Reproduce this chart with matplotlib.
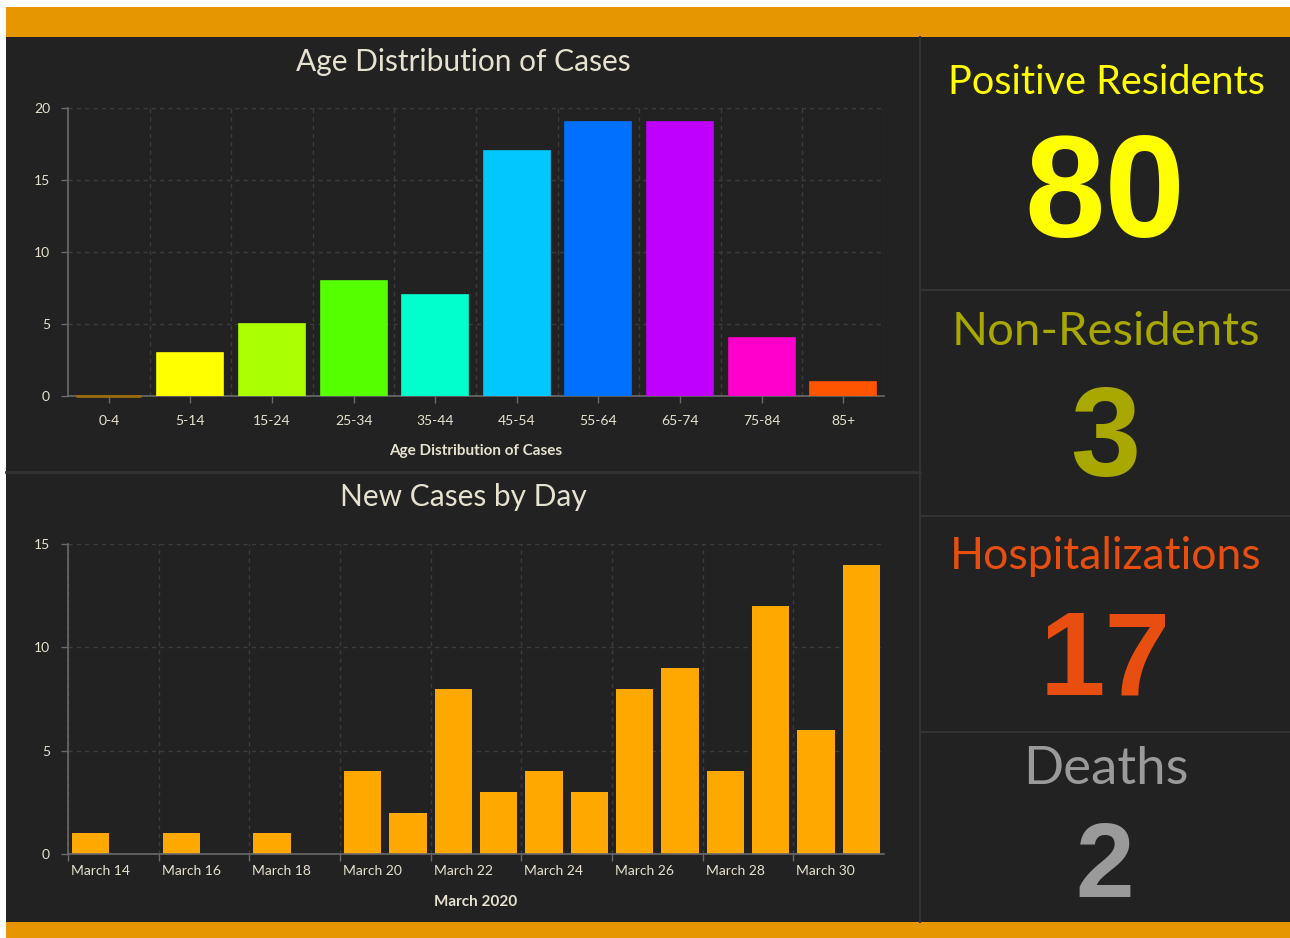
import matplotlib.pyplot as plt
import matplotlib.transforms as mtransforms
from matplotlib.patches import Rectangle

plt.rcParams['font.family'] = ['Lato', 'DejaVu Sans']

W, H = 1290, 938

age_groups = ["0-4", "5-14", "15-24", "25-34", "35-44", "45-54", "55-64", "65-74", "75-84", "85+"]
age_cases = [0, 3, 5, 8, 7, 17, 19, 19, 4, 1]
age_colors = ["#9a6a10", "#ffff00", "#aaff00", "#55ff00", "#00ffcc",
              "#00c8ff", "#0070ff", "#c000ff", "#ff00cc", "#ff5500"]

days = ["March 14", "March 15", "March 16", "March 17", "March 18", "March 19",
        "March 20", "March 21", "March 22", "March 23", "March 24", "March 25",
        "March 26", "March 27", "March 28", "March 29", "March 30", "March 31"]
new_cases = [1, 0, 1, 0, 1, 0, 4, 2, 8, 3, 4, 3, 8, 9, 4, 12, 6, 14]

stat_labels = ["Positive Residents", "Non-Residents", "Hospitalizations", "Deaths"]
stat_values = [80, 3, 17, 2]
stat_colors = ["#ffff00", "#a8a800", "#e84e0f", "#9a9a9a"]

bg = "#222222"
line = "#333333"
orange = "#e59600"
txt = "#e6e2cf"


def fx(x):
    return x / W


def fy(y):
    return 1 - y / H


fig = plt.figure(figsize=(W / 100, H / 100), dpi=100, facecolor="white")

# frame: orange bars and dark panel
fig.patches.append(Rectangle((fx(6), fy(922)), fx(1284), 885 / H, transform=fig.transFigure,
                             facecolor=bg, edgecolor="none", zorder=-5))
fig.patches.append(Rectangle((fx(6), fy(37)), fx(1284), 30 / H, transform=fig.transFigure,
                             facecolor=orange, edgecolor="none", zorder=-4))
fig.patches.append(Rectangle((fx(6), 0), fx(1284), 16 / H, transform=fig.transFigure,
                             facecolor=orange, edgecolor="none", zorder=-4))
# dividers
fig.add_artist(plt.Line2D([fx(920), fx(920)], [fy(37), fy(922)], color=line, lw=1.5, zorder=-3))
fig.add_artist(plt.Line2D([fx(6), fx(920)], [fy(472), fy(472)], color=line, lw=2, zorder=-3))
for yy in [290, 516, 732]:
    fig.add_artist(plt.Line2D([fx(920), fx(1290)], [fy(yy), fy(yy)], color=line, lw=1.5, zorder=-3))


def style_axes(ax):
    ax.set_facecolor("none")
    for s in ["top", "right"]:
        ax.spines[s].set_visible(False)
    for s in ["left", "bottom"]:
        ax.spines[s].set_color("#6a6a6a")
        ax.spines[s].set_linewidth(1.2)
    ax.tick_params(colors="#6a6a6a", labelcolor=txt, labelsize=10, length=5, width=1)
    ax.set_axisbelow(True)


# top chart
ax1 = fig.add_axes([fx(68), fy(396), fx(884 - 68), (396 - 108) / H])
style_axes(ax1)
ax1.bar(range(len(age_groups)), age_cases, width=0.81, color=age_colors,
        edgecolor=age_colors, linewidth=1.2, zorder=3)
# zero-valued groups still show a thin line on the axis
for i, v in enumerate(age_cases):
    if v == 0:
        ax1.plot([i - 0.4, i + 0.4], [0, 0], color=age_colors[i], lw=2, zorder=4,
                 solid_capstyle="butt", clip_on=False)
ax1.set_xlim(-0.5, len(age_groups) - 0.5)
ax1.set_ylim(0, 20)
ax1.set_yticks([0, 5, 10, 15, 20])
ax1.set_xticks(range(len(age_groups)))
ax1.set_xticklabels(age_groups)
ax1.set_xticks([i + 0.5 for i in range(len(age_groups))], minor=True)
ax1.tick_params(axis="x", which="minor", length=0)
ax1.tick_params(axis="x", pad=9)
ax1.tick_params(axis="y", pad=8)
ax1.grid(axis="y", color="#3c3c3c", linestyle=(0, (3, 3)), linewidth=1)
ax1.grid(axis="x", which="minor", color="#3c3c3c", linestyle=(0, (3, 3)), linewidth=1)
ax1.set_xlabel("Age Distribution of Cases", color=txt, fontsize=11, fontweight="bold")
ax1.xaxis.set_label_coords((476 - 68) / (884 - 68), -(444 - 396) / (396 - 108))

# bottom chart
ax2 = fig.add_axes([fx(68), fy(854), fx(884 - 68), (854 - 544) / H])
style_axes(ax2)
ax2.bar([i + 0.5 for i in range(len(days))], new_cases, width=0.82, color="#ffa800")
ax2.set_xlim(0, len(days))
ax2.set_ylim(0, 15)
ax2.set_yticks([0, 5, 10, 15])
ax2.set_xticks(range(0, len(days), 2))
ax2.set_xticklabels(days[::2], ha="left")
ax2.tick_params(axis="x", pad=3)
ax2.tick_params(axis="y", pad=8)
ax2.grid(color="#3c3c3c", linestyle=(0, (3, 3)), linewidth=1)
ax2.set_xlabel("March 2020", color=txt, fontsize=11, fontweight="bold")
ax2.xaxis.set_label_coords((476 - 68) / (884 - 68), -(895 - 854) / (854 - 544))
offset = mtransforms.ScaledTranslation(3 / 100, 0, fig.dpi_scale_trans)
for lab in ax2.get_xticklabels():
    lab.set_transform(lab.get_transform() + offset)

# chart titles
fig.text(fx(463), fy(71), "Age Distribution of Cases", color=txt, fontsize=21.5, ha="center", va="baseline")
fig.text(fx(463), fy(506), "New Cases by Day", color=txt, fontsize=21.5, ha="center", va="baseline")

# right hand stat panels
label_size = [28.5, 34, 32, 38]
value_size = [104, 91, 85, 76]
label_base = [94, 345, 569, 784]
value_base = [237, 476, 694, 897]
for i in range(len(stat_labels)):
    fig.text(fx(1106), fy(label_base[i]), stat_labels[i], color=stat_colors[i],
             fontsize=label_size[i], ha="center", va="baseline")
    fig.text(fx(1105), fy(value_base[i]), str(stat_values[i]), color=stat_colors[i],
             fontsize=value_size[i], fontweight="bold", family="Liberation Sans",
             ha="center", va="baseline")

fig.savefig("out.png", dpi=100, facecolor="white")
